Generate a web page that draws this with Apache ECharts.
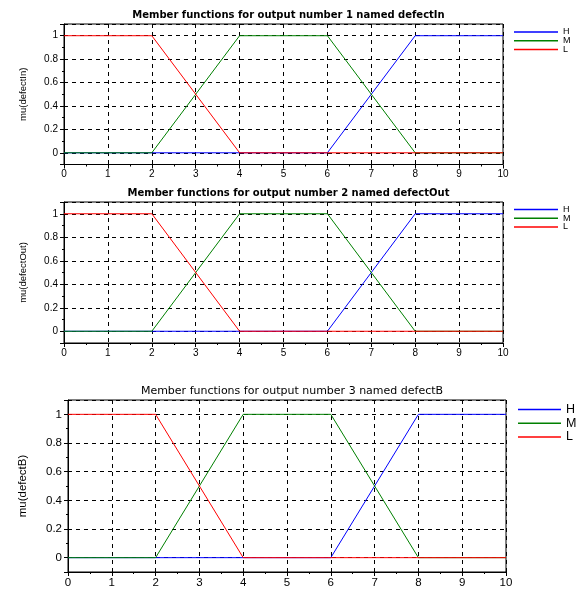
<!DOCTYPE html>
<html><head><meta charset="utf-8">
<script src="https://cdn.jsdelivr.net/npm/echarts@6/dist/echarts.min.js"></script>
<style>html,body{margin:0;padding:0;background:#fff}#c{width:587px;height:592px}</style>
</head><body><div id="c"></div>
<script>
var xValues = [0, 2, 4, 6, 8, 10];
var hValues = [0, 0, 0, 0, 1, 1];
var mValues = [0, 0, 1, 1, 0, 0];
var lValues = [1, 1, 0, 0, 0, 0];
var seriesNames = ['H', 'M', 'L'];
var titles = ['Member functions for output number 1 named defectIn',
              'Member functions for output number 2 named defectOut',
              'Member functions for output number 3 named defectB'];
var yNames = ['mu(defectIn)', 'mu(defectOut)', 'mu(defectB)'];
var xTicks = [0,1,2,3,4,5,6,7,8,9,10];
var yTicks = [0, 0.2, 0.4, 0.6, 0.8, 1];

var FONT = 'Liberation Sans';
var colors = {H: 'rgb(0,0,255)', M: 'rgb(0,128,0)', L: 'rgb(255,0,0)'};
var panels = [
  {left: 64, top: 24, width: 439, height: 140.5, fs: 10, tfont: 'DejaVu Sans', tfs: 10, tw: 'bold', lfs: 9, legTop: 27.5, legLeft: 514, legW: 44, legGap: -0.3, nameGap: 36, nfs: 9.5},
  {left: 64, top: 202, width: 439, height: 141, fs: 10, tfont: 'DejaVu Sans', tfs: 10, tw: 'bold', lfs: 9, legTop: 205, legLeft: 514, legW: 44, legGap: -0.3, nameGap: 36, nfs: 9.5},
  {left: 68, top: 400, width: 438, height: 172, fs: 11.5, tfont: 'DejaVu Sans', tfs: 11, tw: 'normal', lfs: 12.5, legTop: 403, legLeft: 518, legW: 43, legGap: 0.7, nameGap: 39, nfs: 11.5}
];

function pairs(ys) { return xValues.map(function (x, i) { return [x, ys[i]]; }); }
var valuesByName = {H: hValues, M: mValues, L: lValues};

var grids = [], xAxes = [], yAxes = [], series = [], titleArr = [], legends = [];
panels.forEach(function (p, k) {
  grids.push({left: p.left, top: p.top, width: p.width, height: p.height, show: true, borderColor: '#000', borderWidth: 1, backgroundColor: 'transparent'});
  titleArr.push({text: titles[k], left: p.left + p.width / 2, top: p.top - 19, textAlign: 'center',
    textStyle: {fontFamily: p.tfont, fontSize: p.tfs, fontWeight: p.tw, color: '#000'}});
  xAxes.push({type: 'value', gridIndex: k, min: 0, max: 10, interval: 1,
    axisLine: {show: true, onZero: false, lineStyle: {color: '#000', width: 1}},
    axisTick: {show: true, inside: false, length: 4, lineStyle: {color: '#000'}},
    minorTick: {show: true, splitNumber: 2, length: 2, lineStyle: {color: '#000'}},
    axisLabel: {fontFamily: FONT, fontSize: p.fs, color: '#000', margin: 5},
    splitLine: {show: true, lineStyle: {color: '#000', type: [4, 4], width: 1}}});
  yAxes.push({type: 'value', gridIndex: k, min: -0.1, max: 1.1,
    name: yNames[k], nameLocation: 'middle', nameGap: p.nameGap, nameRotate: 90,
    nameTextStyle: {fontFamily: FONT, fontSize: p.nfs, color: '#000'},
    axisLine: {show: true, lineStyle: {color: '#000', width: 1}},
    axisTick: {show: true, inside: false, length: 4, lineStyle: {color: '#000'}},
    minorTick: {show: true, splitNumber: 2, length: 2, lineStyle: {color: '#000'}},
    axisLabel: {fontFamily: FONT, fontSize: p.fs, color: '#000', margin: 6,
      formatter: function (v) { var r = Math.round(v * 10) / 10; if (r < 0 || r > 1) return ''; return yTicks.indexOf(r) >= 0 ? String(r) : ''; }},
    splitLine: {show: true, lineStyle: {color: '#000', type: [4, 4], width: 1}}});
  seriesNames.forEach(function (n) {
    series.push({type: 'line', name: n, xAxisIndex: k, yAxisIndex: k, data: pairs(valuesByName[n]),
      symbol: 'none', lineStyle: {color: colors[n], width: 1}, itemStyle: {color: colors[n]}, animation: false});
  });
  legends.push({orient: 'vertical', left: p.legLeft, top: p.legTop, padding: 0, data: seriesNames, icon: 'rect',
    itemWidth: p.legW, itemHeight: 1.5, itemGap: p.legGap, selectedMode: false,
    textStyle: {fontFamily: FONT, fontSize: p.lfs, color: '#000'}});
});

var chart = echarts.init(document.getElementById('c'), null, {renderer: 'canvas'});
chart.setOption({animation: false, backgroundColor: '#fff', title: titleArr, grid: grids, xAxis: xAxes, yAxis: yAxes, series: series, legend: legends});
</script></body></html>
